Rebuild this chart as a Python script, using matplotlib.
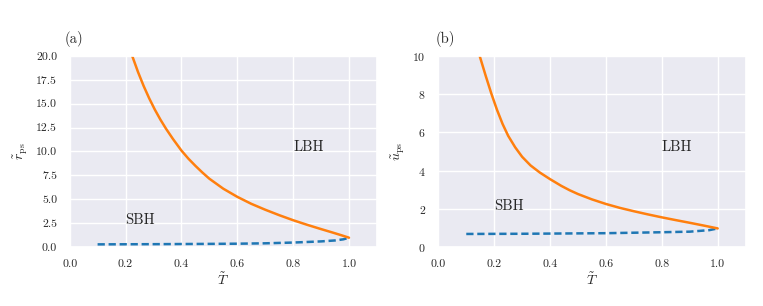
import matplotlib
matplotlib.use("Agg")
import matplotlib.pyplot as plt
import seaborn as sns

sns.set_theme(style="darkgrid")
plt.rcParams['font.family'] = 'serif'
plt.rcParams['font.serif'] = ['cmr10']
plt.rcParams['mathtext.fontset'] = 'cm'
plt.rcParams['axes.formatter.use_mathtext'] = True

# panel (a): photon sphere radius vs temperature
T_large_a = [0.224, 0.245, 0.265, 0.285, 0.305, 0.325, 0.345, 0.37, 0.4, 0.425,
             0.45, 0.475, 0.5, 0.55, 0.6, 0.65, 0.7, 0.75, 0.8, 0.85,
             0.9, 0.94, 0.97, 1.0]
r_large = [20.0, 18.3, 16.85, 15.55, 14.38, 13.33, 12.38, 11.3, 10.1, 9.25,
           8.5, 7.8, 7.15, 6.1, 5.25, 4.52, 3.9, 3.33, 2.8, 2.32,
           1.87, 1.52, 1.25, 0.97]
T_small_a = [0.1, 0.3, 0.5, 0.6, 0.7, 0.8, 0.9, 0.95, 0.98, 1.0]
r_small = [0.27, 0.29, 0.32, 0.34, 0.38, 0.46, 0.58, 0.68, 0.8, 0.97]

# panel (b): photon sphere potential vs temperature
T_large_b = [0.148, 0.17, 0.19, 0.21, 0.23, 0.25, 0.275, 0.3, 0.33, 0.363,
             0.4, 0.44, 0.47, 0.5, 0.55, 0.6, 0.65, 0.7, 0.75, 0.8,
             0.85, 0.9, 0.95, 1.0]
u_large = [10.0, 8.94, 8.02, 7.18, 6.44, 5.82, 5.22, 4.72, 4.27, 3.9,
           3.55, 3.2, 2.97, 2.77, 2.49, 2.25, 2.045, 1.87, 1.705, 1.55,
           1.405, 1.265, 1.12, 0.97]
T_small_b = [0.1, 0.3, 0.6, 0.8, 0.9, 0.97, 1.0]
u_small = [0.68, 0.69, 0.72, 0.77, 0.80, 0.88, 0.97]

blue = '#1f77b4'
orange = '#ff7f0e'
txt = '#262626'

fig = plt.figure(figsize=(7.63, 3.06), dpi=100)
ax1 = fig.add_axes([0.0913, 0.193, 0.4027, 0.624])
ax2 = fig.add_axes([0.5745, 0.193, 0.4027, 0.624])

ax1.plot(T_small_a, r_small, '--', color=blue, lw=1.8, dashes=(2.9, 1.5))
ax1.plot(T_large_a, r_large, '-', color=orange, lw=1.8)
ax1.set_xlim(0, 1.1)
ax1.set_ylim(0, 20)
ax1.set_yticks([0, 2.5, 5, 7.5, 10, 12.5, 15, 17.5, 20])
ax1.set_yticklabels(['0.0', '2.5', '5.0', '7.5', '10.0', '12.5', '15.0', '17.5', '20.0'])
ax1.set_xticks([0, 0.2, 0.4, 0.6, 0.8, 1.0])
ax1.set_xticklabels(['0.0', '0.2', '0.4', '0.6', '0.8', '1.0'])
ax1.set_xlabel(r'$\tilde{T}$', fontsize=10, labelpad=2)
ax1.set_ylabel(r'$\tilde{r}_{\rm ps}$', fontsize=10, labelpad=4)
ax1.set_title('(a)', loc='left', fontsize=10.5, pad=9, x=-0.015)
ax1.text(0.2, 2.4, 'SBH', fontsize=10.5, color=txt)
ax1.text(0.8, 10.0, 'LBH', fontsize=10.5, color=txt)

ax2.plot(T_small_b, u_small, '--', color=blue, lw=1.8, dashes=(2.9, 1.5))
ax2.plot(T_large_b, u_large, '-', color=orange, lw=1.8)
ax2.set_xlim(0, 1.1)
ax2.set_ylim(0, 10)
ax2.set_yticks([0, 2, 4, 6, 8, 10])
ax2.set_xticks([0, 0.2, 0.4, 0.6, 0.8, 1.0])
ax2.set_xticklabels(['0.0', '0.2', '0.4', '0.6', '0.8', '1.0'])
ax2.set_xlabel(r'$\tilde{T}$', fontsize=10, labelpad=2)
ax2.set_ylabel(r'$\tilde{u}_{\rm ps}$', fontsize=10, labelpad=4)
ax2.set_title('(b)', loc='left', fontsize=10.5, pad=9, x=-0.01)
ax2.text(0.2, 1.95, 'SBH', fontsize=10.5, color=txt)
ax2.text(0.8, 5.0, 'LBH', fontsize=10.5, color=txt)

for ax in (ax1, ax2):
    ax.tick_params(labelsize=8.5, pad=3)

fig.savefig('out.png', dpi=100)
